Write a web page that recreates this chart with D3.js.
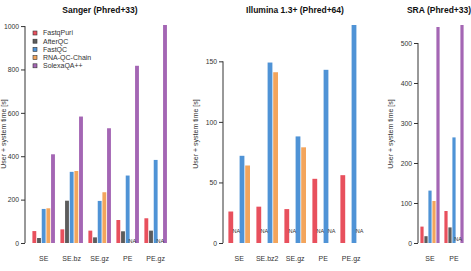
<!DOCTYPE html>
<html>
<head>
<meta charset="utf-8">
<script src="https://cdn.jsdelivr.net/npm/d3@7"></script>
<style>
  body { margin: 0; background: #fff; }
  svg { display: block; font-family: "Liberation Sans", Arial, sans-serif; }
  .tick text { fill: #333; }
</style>
</head>
<body>
<script>
// Tools and colours
const tools = ['FastqPuri', 'AfterQC', 'FastQC', 'RNA-QC-Chain', 'SolexaQA++'];
const toolColors = ['#e8505d', '#5c5c5c', '#4f93d6', '#f3a55c', '#a466b4'];

// Sanger (Phred+33)
const sangerGroups = ['SE', 'SE.bz', 'SE.gz', 'PE', 'PE.gz'];
const sangerFastqPuri = [55, 63, 57, 106, 114];
const sangerAfterQC = [23, 195, 26, 54, 57];
const sangerFastQC = [157, 328, 194, 311, 383];
const sangerRnaQcChain = [160, 332, 234, null, null];
const sangerSolexaQA = [409, 583, 529, 817, 1005];

// Illumina 1.3+ (Phred+64)
const illuminaGroups = ['SE', 'SE.bz2', 'SE.gz', 'PE', 'PE.gz'];
const illuminaFastqPuri = [26, 30, 28, 53, 56];
const illuminaAfterQC = [null, null, null, null, 0];
const illuminaFastQC = [72, 149, 88, 143, 180];
const illuminaRnaQcChain = [64, 141, 79, null, null];

// SRA (Phred+33)
const sraGroups = ['SE', 'PE'];
const sraFastqPuri = [41, 80];
const sraAfterQC = [17, 39];
const sraFastQC = [131, 264];
const sraRnaQcChain = [105, null];
const sraSolexaQA = [540, 545];

const naLabelValue = 10;

const width = 471,
    height = 271;
const plotTop = 25,
    plotBottom = 243;

let svg = d3
    .select('body')
    .append('svg')
    .attr('width', width)
    .attr('height', height);

const panels = [
    {
        title: 'Sanger (Phred+33)',
        groups: sangerGroups,
        series: [sangerFastqPuri, sangerAfterQC, sangerFastQC, sangerRnaQcChain, sangerSolexaQA],
        axisX: 25, barsLeft: 32, step: 28, titleX: 100, ylabX: 4
    },
    {
        title: 'Illumina 1.3+ (Phred+64)',
        groups: illuminaGroups,
        series: [illuminaFastqPuri, illuminaAfterQC, illuminaFastQC, illuminaRnaQcChain],
        axisX: 223, barsLeft: 228, step: 28, titleX: 295, ylabX: 196
    },
    {
        title: 'SRA (Phred+33)',
        groups: sraGroups,
        series: [sraFastqPuri, sraAfterQC, sraFastQC, sraRnaQcChain, sraSolexaQA],
        axisX: 418, barsLeft: 420, step: 24, titleX: 439, ylabX: 391
    }
];

panels.forEach(p => {
    let g = svg.append('g');
    const nb = p.series.length;
    const inner = 1 / (nb + 1);
    const ptools = tools.slice(0, nb);

    let x0 = d3
        .scaleBand()
        .domain(p.groups)
        .range([p.barsLeft, p.barsLeft + p.step * (p.groups.length - inner)])
        .paddingInner(inner)
        .paddingOuter(0);
    let x1 = d3.scaleBand().domain(ptools).range([0, x0.bandwidth()]);

    const ymax = d3.max(p.series.flat().filter(v => v != null));
    let y = d3.scaleLinear().domain([0, ymax]).range([plotBottom, plotTop]);

    // y axis, line spans first..last tick like R
    const ticks = y.ticks(5);
    let yAxis = g.append('g').attr('transform', `translate(${p.axisX},0)`);
    yAxis.call(d3.axisLeft(y).tickValues(ticks).tickFormat(d3.format('d')).tickSize(4).tickPadding(2));
    yAxis.select('.domain').remove();
    yAxis.selectAll('.tick line').attr('stroke', '#333');
    yAxis.selectAll('.tick text').attr('font-size', 6.8).attr('font-family', 'Liberation Sans, Arial, sans-serif');
    yAxis
        .append('line')
        .attr('y1', y(0))
        .attr('y2', y(ticks[ticks.length - 1]))
        .attr('stroke', '#333');

    // y label
    g.append('text')
        .attr('transform', `translate(${p.ylabX}, ${(plotTop + plotBottom) / 2}) rotate(-90)`)
        .attr('text-anchor', 'middle')
        .attr('dy', '0.35em')
        .attr('font-size', 7)
        .attr('fill', '#333')
        .text('User + system time [s]');

    // title
    g.append('text')
        .attr('x', p.titleX)
        .attr('y', 13)
        .attr('text-anchor', 'middle')
        .attr('font-size', 8.5)
        .attr('font-weight', 'bold')
        .attr('fill', '#111')
        .text(p.title);

    // bars
    const cells = [];
    p.groups.forEach((grp, gi) => {
        ptools.forEach((tool, ti) => {
            cells.push({ grp, tool, ti, v: p.series[ti][gi] });
        });
    });

    g.selectAll('rect.bar')
        .data(cells.filter(d => d.v != null))
        .enter()
        .append('rect')
        .attr('class', 'bar')
        .attr('x', d => x0(d.grp) + x1(d.tool) + 0.4)
        .attr('width', x1.bandwidth() - 0.8)
        .attr('y', d => y(d.v))
        .attr('height', d => y(0) - y(d.v))
        .attr('fill', d => toolColors[d.ti]);

    g.selectAll('text.na')
        .data(cells.filter(d => d.v == null))
        .enter()
        .append('text')
        .attr('class', 'na')
        .attr('x', d => x0(d.grp) + x1(d.tool) + x1.bandwidth() / 2)
        .attr('y', y(naLabelValue))
        .attr('dy', '0.35em')
        .attr('text-anchor', 'middle')
        .attr('font-size', 5.5)
        .attr('fill', '#333')
        .text('NA');

    // x labels
    g.selectAll('text.xl')
        .data(p.groups)
        .enter()
        .append('text')
        .attr('class', 'xl')
        .attr('x', d => x0(d) + x0.bandwidth() / 2)
        .attr('y', 261)
        .attr('text-anchor', 'middle')
        .attr('font-size', 7)
        .attr('fill', '#333')
        .text(d => d);
});

// Legend (Sanger panel)
let legend = svg
    .append('g')
    .selectAll('g')
    .data(tools)
    .enter()
    .append('g')
    .attr('transform', (d, i) => `translate(33, ${33 + i * 8.2})`);

legend
    .append('rect')
    .attr('x', 0)
    .attr('y', -2)
    .attr('width', 4)
    .attr('height', 4)
    .attr('fill', (d, i) => toolColors[i])
    .attr('stroke', '#333')
    .attr('stroke-width', 0.6);

legend
    .append('text')
    .attr('x', 10)
    .attr('dy', '0.35em')
    .attr('font-size', 7)
    .attr('fill', '#333')
    .text(d => d);
</script>
</body>
</html>
